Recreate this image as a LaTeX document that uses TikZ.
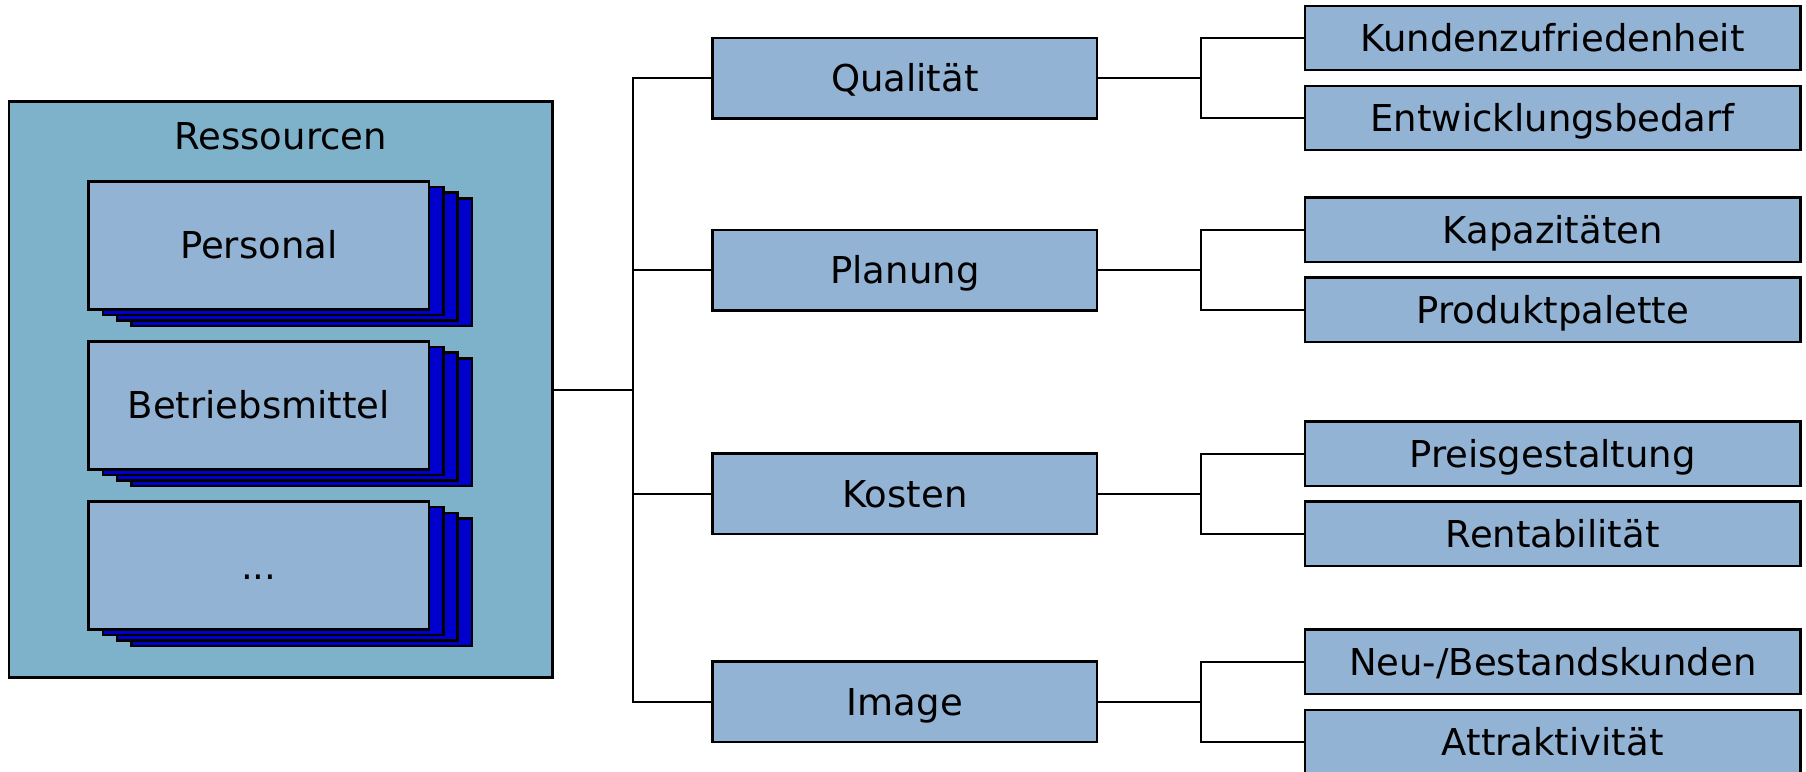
\documentclass[tikz,border=0pt]{standalone}
\usepackage{fontspec}
\setmainfont{DejaVu Sans}
\definecolor{resfill}{HTML}{7EB2CA}
\definecolor{boxfill}{HTML}{93B3D4}
\definecolor{stackblue}{HTML}{0000CC}

\tikzset{
  label font/.style={font=\fontsize{37}{44}\selectfont, text height=27pt, text depth=0pt, inner sep=0pt},
  midbox/.style={draw, fill=boxfill, line width=2.5pt, minimum width=384.5pt, minimum height=80.5pt, label font},
  leafbox/.style={draw, fill=boxfill, line width=2.5pt, minimum width=495.5pt, minimum height=64.3pt, label font},
  stackbox/.style={draw, fill=boxfill, line width=2.5pt, minimum width=340.5pt, minimum height=127.8pt, label font},
  stacklayer/.style={draw, fill=stackblue, line width=2.5pt},
  resbox/.style={draw, fill=resfill, line width=2.5pt, inner sep=0pt, minimum width=543.6pt, minimum height=575.6pt},
  link/.style={draw, line width=2pt},
}

% a pile of three cards behind a labelled front card
\newcommand{\cardpile}[4]{%
  \foreach \k in {3,2,1}{
    \path[stacklayer] ({#2-170.25+14.3*\k},{#3-63.9+5.6*\k}) rectangle ++(340.5,127.8);
  }
  \node[stackbox] (#1) at (#2,#3) {#4};
}

\begin{document}
\begin{tikzpicture}[x=1pt,y=-1pt]
\clip (0,0) rectangle (1806,771);
\fill[white] (0,0) rectangle (1806,771);

% resource container
\node[resbox] (res) at (280.8,389.5) {};
\node[label font] (restitle) at (280.8,136) {Ressourcen};

\cardpile{pers}{258.75}{245.4}{Personal}
\cardpile{betr}{258.75}{405.4}{Betriebsmittel}
\cardpile{more}{258.75}{565.5}{...}

% criteria
\node[midbox] (qual) at (904.9,78)    {Qualität};
\node[midbox] (plan) at (904.9,270)   {Planung};
\node[midbox] (kost) at (904.9,493.7) {Kosten};
\node[midbox] (imag) at (904.9,701.7) {Image};

% sub-criteria
\node[leafbox] (kund) at (1552.7,37.9)  {Kundenzufriedenheit};
\node[leafbox] (entw) at (1552.7,118)   {Entwicklungsbedarf};
\node[leafbox] (kapa) at (1552.7,229.7) {Kapazitäten};
\node[leafbox] (prod) at (1552.7,309.7) {Produktpalette};
\node[leafbox] (prei) at (1552.7,453.8) {Preisgestaltung};
\node[leafbox] (rent) at (1552.7,533.7) {Rentabilität};
\node[leafbox] (neub) at (1552.7,661.7) {Neu-/Bestandskunden};
\node[leafbox] (attr) at (1552.7,742)   {Attraktivität};

% bus lines
\coordinate (busA) at (632.6,389.5);
\coordinate (busB) at (1201,0);

\draw[link] (res.east) -- (busA);
\draw[link] (qual.west) -- (qual.west -| busA) -- (imag.west -| busA) -- (imag.west);
\draw[link] (plan.west) -- (plan.west -| busA);
\draw[link] (kost.west) -- (kost.west -| busA);

\foreach \p/\a/\b in {qual/kund/entw, plan/kapa/prod, kost/prei/rent, imag/neub/attr}{
  \draw[link] (\p.east) -- (\p.east -| busB);
  \draw[link] (\a.west) -- (\a.west -| busB) -- (\b.west -| busB) -- (\b.west);
}
\end{tikzpicture}
\end{document}
